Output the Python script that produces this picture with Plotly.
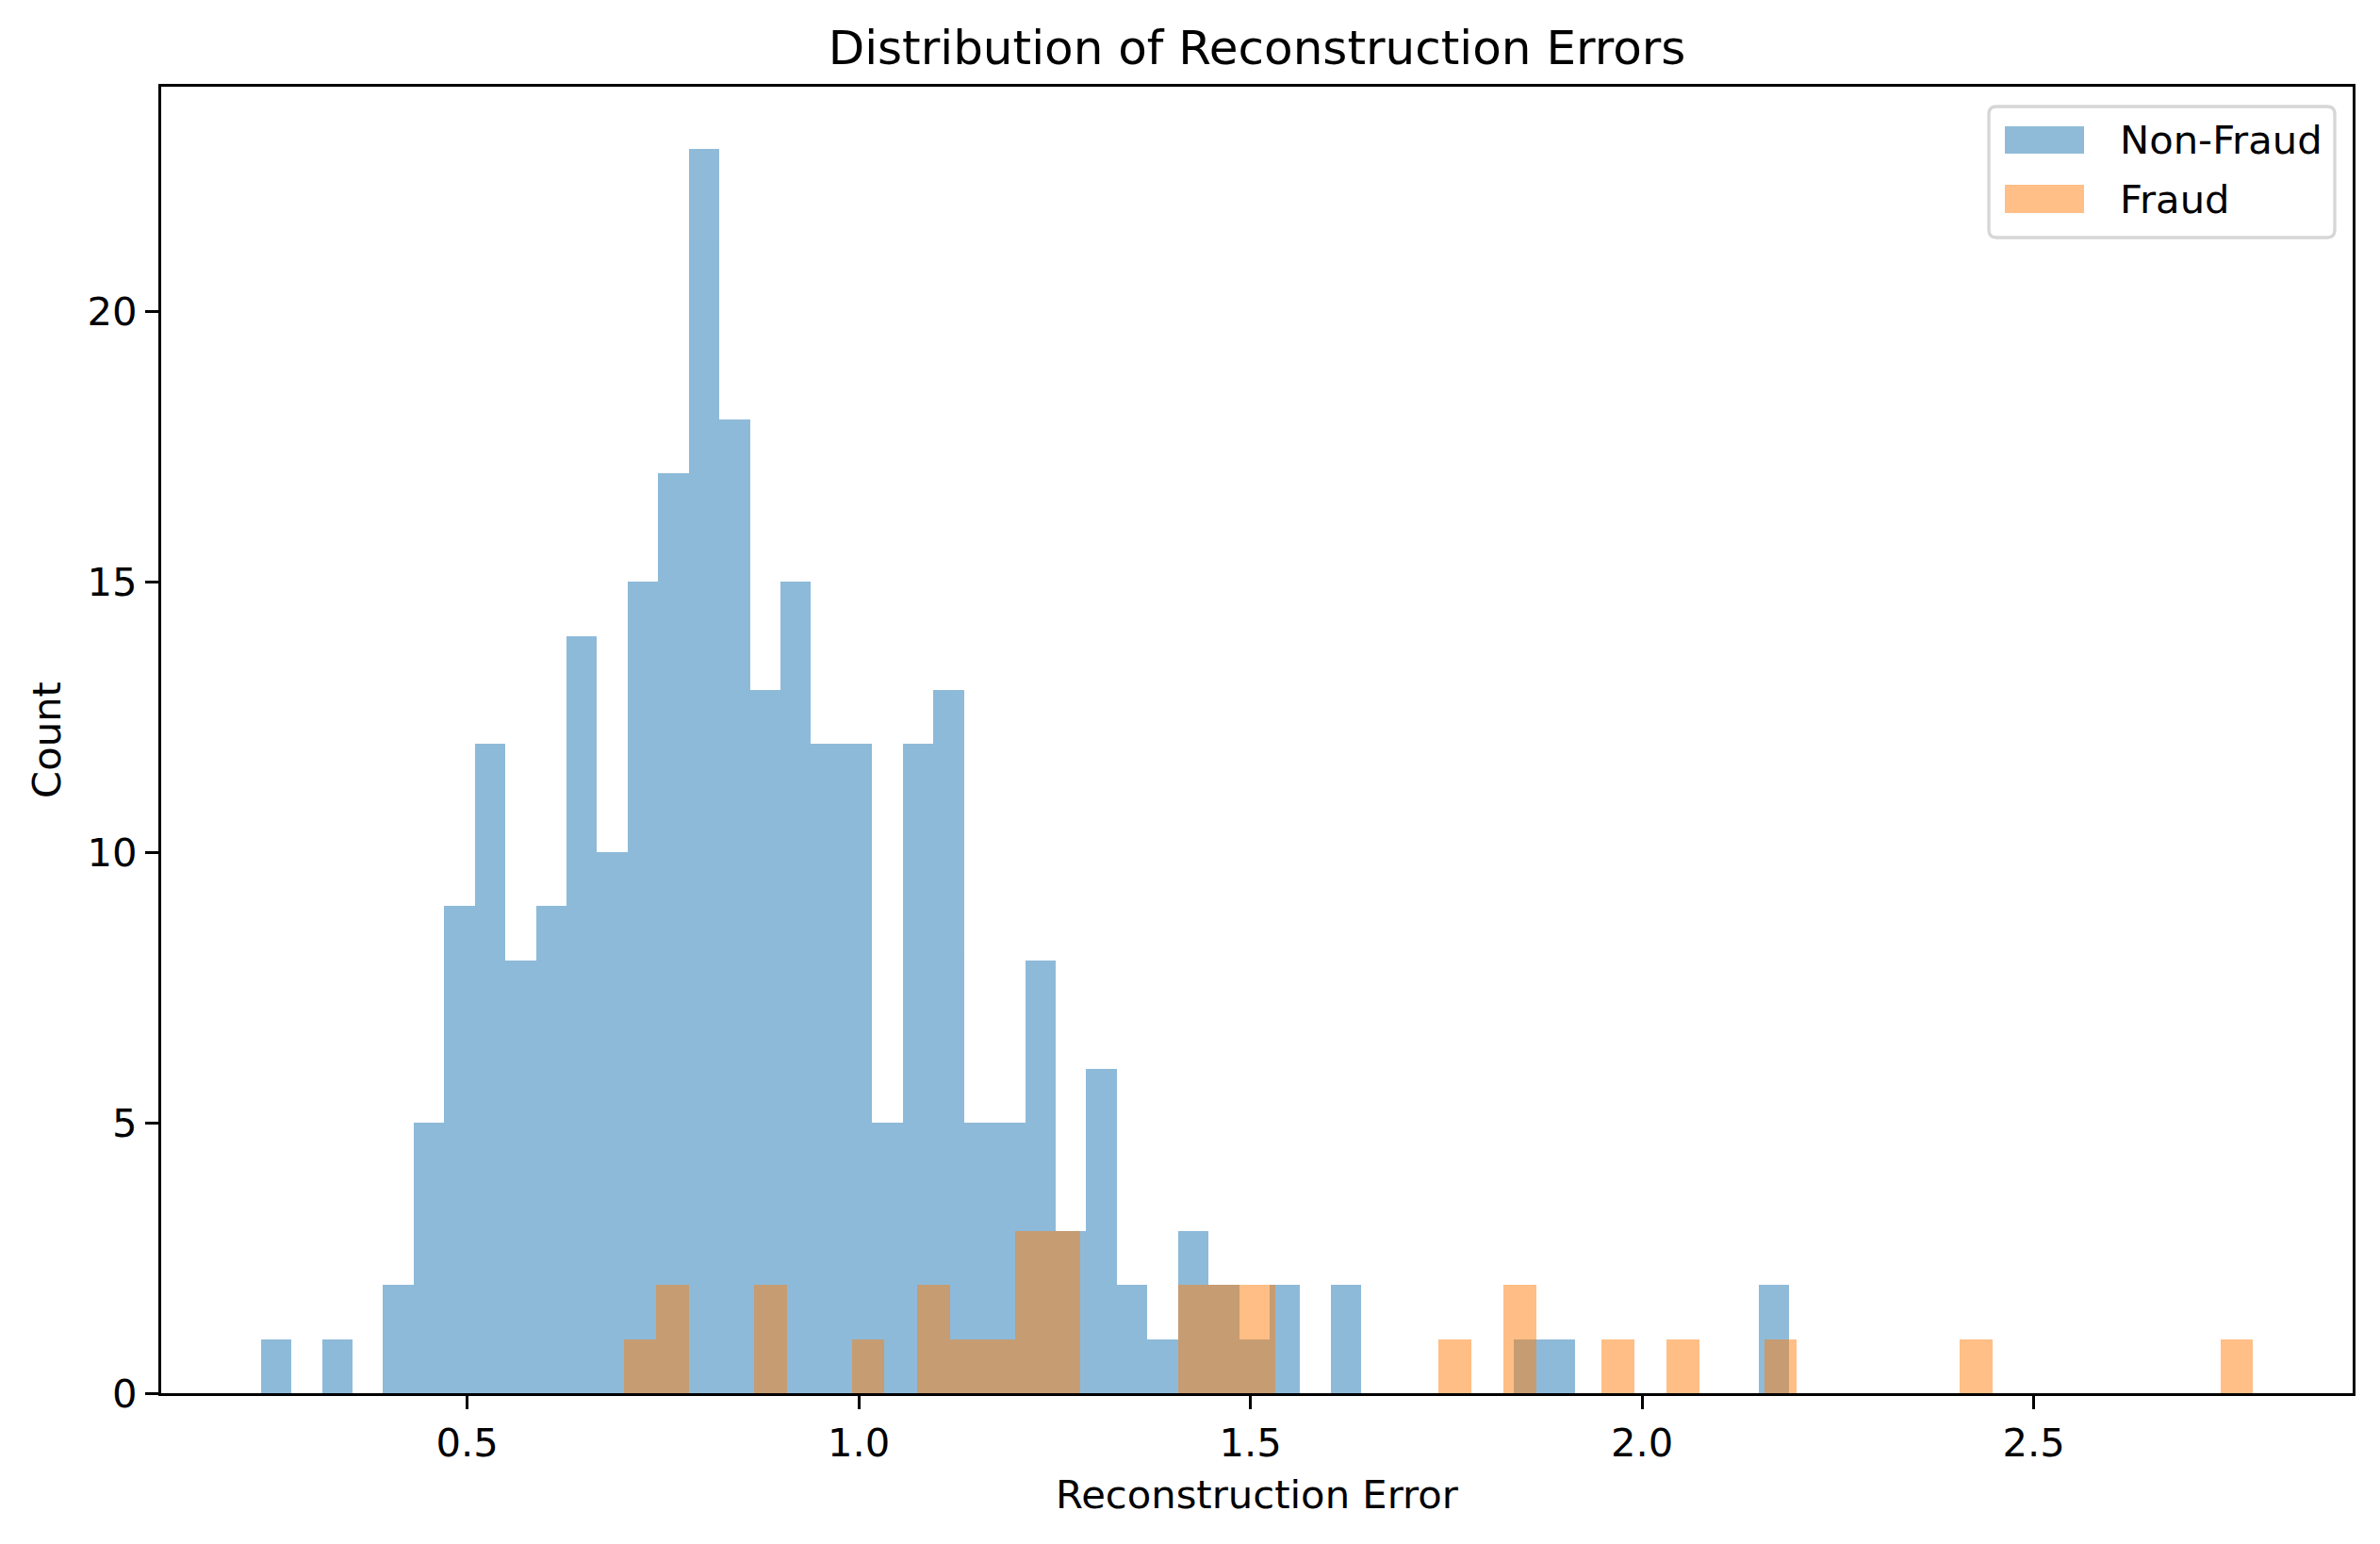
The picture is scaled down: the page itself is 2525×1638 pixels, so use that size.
import numpy as np
import plotly.graph_objects as go

# Histogram data (50 bins per class)
nonfraud_range = (0.2365, 2.188)
nonfraud_counts = [1, 0, 1, 0, 2, 5, 9, 12, 8, 9,
                   14, 10, 15, 17, 23, 18, 13, 15, 12, 12,
                   5, 12, 13, 5, 5, 8, 3, 6, 2, 1,
                   3, 2, 1, 2, 0, 2, 0, 0, 0, 0,
                   0, 1, 1, 0, 0, 0, 0, 0, 0, 2]

fraud_range = (0.700, 2.780)
fraud_counts = [1, 2, 0, 0, 2, 0, 0, 1, 0, 2,
                1, 1, 3, 3, 0, 0, 0, 2, 2, 2,
                0, 0, 0, 0, 0, 1, 0, 2, 0, 0,
                1, 0, 1, 0, 0, 1, 0, 0, 0, 0,
                0, 1, 0, 0, 0, 0, 0, 0, 0, 1]

series_names = ['Non-Fraud', 'Fraud']
x_ticks = [0.5, 1.0, 1.5, 2.0, 2.5]
y_ticks = [0, 5, 10, 15, 20]

FONT = "DejaVu Sans"
BLUE, ORANGE = '#1f77b4', '#ff7f0e'
BLUE_A, ORANGE_A = '#8fbbd9', '#ffbf86'   # colours at alpha 0.5 on white

# page body has an 8px margin, so the figure is shrunk by that much
W, H = 2517, 1630
ML, MR, MT, MB = 163, 29, 84, 160
PW, PH = W - ML - MR, H - MT - MB


def bins(rng, counts):
    edges = np.linspace(rng[0], rng[1], len(counts) + 1)
    centers = (edges[:-1] + edges[1:]) / 2
    width = edges[1] - edges[0]
    return centers, width


def px(x, y):
    # screen pixel (in the 2525x1638 shot) -> paper coords
    return (x - 8 - ML) / PW, 1 - (y - 8 - MT) / PH


nf_x, nf_w = bins(nonfraud_range, nonfraud_counts)
fr_x, fr_w = bins(fraud_range, fraud_counts)

fig = go.Figure()
fig.add_trace(go.Bar(
    x=nf_x, y=nonfraud_counts, width=nf_w, name=series_names[0],
    marker=dict(color=BLUE, line=dict(width=0)), opacity=0.5
))
fig.add_trace(go.Bar(
    x=fr_x, y=fraud_counts, width=fr_w, name=series_names[1],
    marker=dict(color=ORANGE, line=dict(width=0)), opacity=0.5
))

# matplotlib-style 5% margins on x, sticky zero on y
lo = min(nonfraud_range[0], fraud_range[0])
hi = max(nonfraud_range[1], fraud_range[1])
pad = 0.05 * (hi - lo)
ymax = max(max(nonfraud_counts), max(fraud_counts)) * 1.05

axis_common = dict(
    showline=True, linecolor='black', linewidth=3.3, mirror=True,
    ticks='outside', ticklen=14, tickwidth=3.3, tickcolor='black',
    showgrid=False, zeroline=False,
    tickfont=dict(family=FONT, size=41.7, color='black'),
)

# legend drawn matplotlib-style: rounded frame, wide patches
x0, y0 = px(2110, 113)
x1, y1 = px(2477, 252)
rx, ry = 8 / PW, 8 / PH
frame = (f"M {x0 + rx},{y0} L {x1 - rx},{y0} Q {x1},{y0} {x1},{y0 - ry} "
         f"L {x1},{y1 + ry} Q {x1},{y1} {x1 - rx},{y1} L {x0 + rx},{y1} "
         f"Q {x0},{y1} {x0},{y1 + ry} L {x0},{y0 - ry} Q {x0},{y0} {x0 + rx},{y0} Z")
shapes = [dict(type='path', path=frame, xref='paper', yref='paper',
               fillcolor='white', line=dict(color='#d6d6d6', width=3.3))]
annotations = []
for name, col, (top, bot, mid) in zip(series_names, [BLUE_A, ORANGE_A],
                                      [(134, 163, 148), (196, 226, 211)]):
    px0, py0 = px(2127, top)
    px1, py1 = px(2211, bot)
    shapes.append(dict(type='rect', xref='paper', yref='paper',
                       x0=px0, x1=px1, y0=py1, y1=py0,
                       fillcolor=col, line=dict(width=0)))
    tx, ty = px(2247, mid)
    annotations.append(dict(text=name, x=tx, y=ty, xref='paper', yref='paper',
                            xanchor='left', yanchor='middle', showarrow=False,
                            font=dict(family=FONT, size=41.7, color='black')))

fig.update_layout(
    width=W, height=H,
    margin=dict(l=ML, r=MR, t=MT, b=MB),
    paper_bgcolor='white', plot_bgcolor='white',
    barmode='overlay', bargap=0,
    font=dict(family=FONT, color='black'),
    title=dict(
        text='Distribution of Reconstruction Errors',
        x=0.5, xref='paper', xanchor='center',
        y=1 - 42 / H, yref='container', yanchor='middle',
        font=dict(family=FONT, size=50, color='black')
    ),
    xaxis=dict(
        range=[lo - pad, hi + pad],
        tickvals=x_ticks, tickformat='.1f',
        title=dict(text='Reconstruction Error', standoff=17,
                   font=dict(family=FONT, size=41.7, color='black')),
        **axis_common
    ),
    yaxis=dict(
        range=[0, ymax],
        tickvals=y_ticks,
        title=dict(text='Count', standoff=15,
                   font=dict(family=FONT, size=41.7, color='black')),
        **axis_common
    ),
    shapes=shapes,
    annotations=annotations,
    showlegend=False,
)

fig.write_html("out.html")
